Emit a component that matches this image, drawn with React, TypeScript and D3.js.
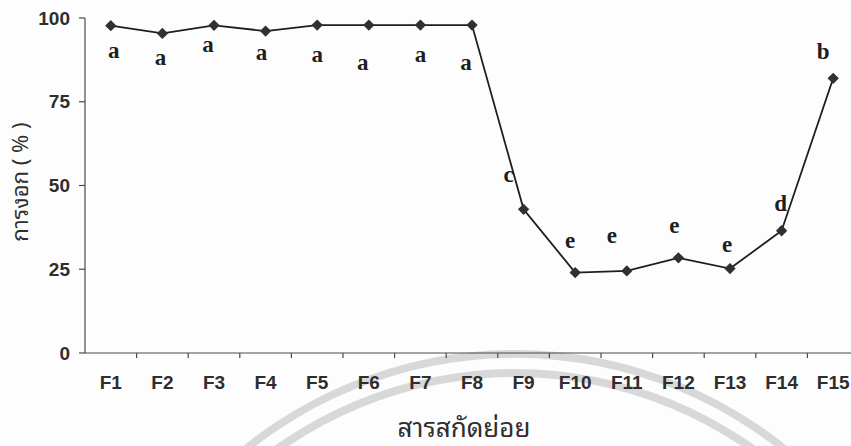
import React from "react";
import * as d3 from "d3";

// ---- data ----
const categories = ["F1", "F2", "F3", "F4", "F5", "F6", "F7", "F8", "F9", "F10", "F11", "F12", "F13", "F14", "F15"];
const germination = [97.7, 95.4, 97.8, 96.1, 97.9, 97.9, 97.9, 97.9, 42.9, 24.0, 24.5, 28.4, 25.2, 36.5, 82.0];
const groupLetters = ["a", "a", "a", "a", "a", "a", "a", "a", "c", "e", "e", "e", "e", "d", "b"];
const yTicks = [0, 25, 50, 75, 100];
const yLabel = "การงอก ( % )";
const xLabel = "สารสกัดย่อย";

// ---- layout (label offsets relative to points, in px) ----
const labelDx = [3, -2, -6, -4, 0, -6, 0, -6, -15, -5, -15, -4, -3, -1, -10];
const labelDy = [32, 32, 27, 29, 37, 45, 37, 45, -27, -25, -28, -25, -17, -20, -19];

const W = 851;
const H = 446;
const left = 85;
const bandW = 51.6;
const y0 = 353;
const y100 = 18;

export default function App() {
  const x = d3.scaleBand<string>().domain(categories).range([left, left + bandW * categories.length]).paddingInner(0).paddingOuter(0);
  const y = d3.scaleLinear().domain([0, 100]).range([y0, y100]);
  const cx = (c: string) => (x(c) as number) + x.bandwidth() / 2;

  const line = d3
    .line<number>()
    .x((_, i) => cx(categories[i]))
    .y((d) => y(d));

  const diamond = d3.symbol().type(d3.symbolSquare).size(64)() as string;

  const arcOuter = d3.arc()({ innerRadius: 425, outerRadius: 433, startAngle: -Math.PI / 2, endAngle: Math.PI / 2 }) as string;
  const arcInner = d3.arc()({ innerRadius: 406, outerRadius: 414, startAngle: -Math.PI / 2, endAngle: Math.PI / 2 }) as string;

  const xEnd = left + bandW * categories.length;
  const boundaries = categories.slice(1).map((c) => x(c) as number).concat([xEnd]);

  const axisColor = "#4a4a4a";
  const textColor = "#2e2e2e";
  const thaiFont = "'Noto Sans Thai Looped', 'Noto Sans Thai', 'Noto Sans', 'DejaVu Sans', sans-serif";

  return (
    <svg width={W} height={H} style={{ position: "absolute", left: 0, top: 0, background: "#fdfdfd" }}>
      <rect x={0} y={0} width={W} height={H} fill="#fdfdfd" />
      {/* faint watermark arcs */}
      <g transform="translate(515,783)" fill="#d8d8d8">
        <path d={arcOuter} />
        <path d={arcInner} />
      </g>

      {/* y axis */}
      <line x1={left} x2={left} y1={y(100)} y2={y(0)} stroke={axisColor} strokeWidth={1.2} />
      {yTicks.map((t) => (
        <g key={t}>
          <line x1={left - 6} x2={left} y1={y(t)} y2={y(t)} stroke={axisColor} strokeWidth={1.2} />
          <text
            x={70}
            y={y(t)}
            textAnchor="end"
            dominantBaseline="central"
            fontFamily="'Liberation Sans', Arial, sans-serif"
            fontWeight="bold"
            fontSize={19}
            fill={textColor}
          >
            {t}
          </text>
        </g>
      ))}

      {/* x axis */}
      <line x1={left} x2={xEnd} y1={y(0)} y2={y(0)} stroke={axisColor} strokeWidth={1.2} />
      {boundaries.map((b, i) => (
        <line key={i} x1={b} x2={b} y1={y(0)} y2={y(0) + 5} stroke={axisColor} strokeWidth={1.2} />
      ))}
      {categories.map((c) => (
        <text
          key={c}
          x={cx(c)}
          y={382}
          textAnchor="middle"
          dominantBaseline="central"
          fontFamily="'Liberation Sans', Arial, sans-serif"
          fontWeight="bold"
          fontSize={19}
          fill={textColor}
        >
          {c}
        </text>
      ))}

      {/* axis titles */}
      <text
        transform={`translate(18,182) rotate(-90)`}
        textAnchor="middle"
        dominantBaseline="central"
        fontFamily={thaiFont}
        fontSize={22}
        fill={textColor}
      >
        {yLabel}
      </text>
      <text x={464} y={437} textAnchor="middle" fontFamily={thaiFont} fontSize={26} fill={textColor}>
        {xLabel}
      </text>

      {/* series */}
      <path d={line(germination) as string} fill="none" stroke="#1e1e1e" strokeWidth={1.8} />
      {germination.map((v, i) => (
        <path
          key={i}
          d={diamond}
          transform={`translate(${cx(categories[i])},${y(v)}) rotate(45)`}
          fill="#303030"
        />
      ))}
      {groupLetters.map((l, i) => (
        <text
          key={i}
          x={cx(categories[i]) + labelDx[i]}
          y={y(germination[i]) + labelDy[i]}
          textAnchor="middle"
          fontFamily="'Liberation Serif', 'Times New Roman', serif"
          fontWeight="bold"
          fontSize={23}
          fill="#1e1e1e"
        >
          {l}
        </text>
      ))}
    </svg>
  );
}
